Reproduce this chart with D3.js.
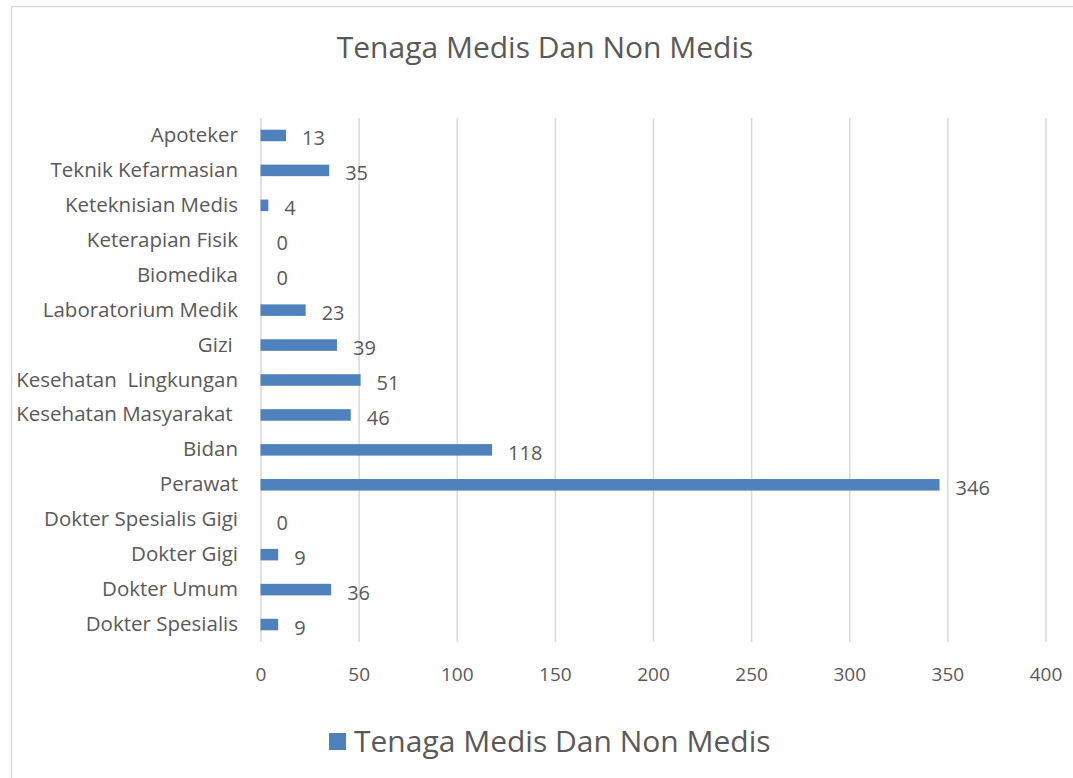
<!DOCTYPE html>
<meta charset="utf-8">
<style>
body { margin: 0; background: #fff; }
text { font-family: "Open Sans", sans-serif; fill: #595959; white-space: pre; }
.grid line { stroke: #d9d9d9; stroke-width: 1.5px; }
.grid path { display: none; }
.xaxis path, .xaxis line, .yaxis path, .yaxis line { display: none; }
</style>
<svg width="1073" height="778"></svg>
<script src="https://d3js.org/d3.v7.min.js"></script>
<script>

var categories = ["Apoteker", "Teknik Kefarmasian", "Keteknisian Medis", "Keterapian Fisik", "Biomedika",
  "Laboratorium Medik", "Gizi ", "Kesehatan  Lingkungan", "Kesehatan Masyarakat ", "Bidan", "Perawat",
  "Dokter Spesialis Gigi", "Dokter Gigi", "Dokter Umum", "Dokter Spesialis"];
var values = [13, 35, 4, 0, 0, 23, 39, 51, 46, 118, 346, 0, 9, 36, 9];
var xTicks = [0, 50, 100, 150, 200, 250, 300, 350, 400];
var seriesName = "Tenaga Medis Dan Non Medis";
var title = "Tenaga Medis Dan Non Medis";

var svg = d3.select("svg");

// chart border
svg.append("rect")
    .attr("x", 11.5).attr("y", 6.5)
    .attr("width", 1100).attr("height", 800)
    .attr("fill", "none")
    .attr("stroke", "#d9d9d9")
    .attr("stroke-width", 1.5);

var x = d3.scaleLinear().domain([0, 400]).range([260.5, 1045.5]);
var y = d3.scaleBand().domain(categories).range([118, 642]).paddingInner(0.67).paddingOuter(0.335);

svg.append("g")
    .attr("class", "grid")
    .attr("transform", "translate(0,118)")
  .call(d3.axisBottom(x).tickValues(xTicks).tickSize(524).tickFormat(""));

svg.append("g")
    .attr("class", "xaxis")
    .attr("transform", "translate(0,642)")
  .call(d3.axisBottom(x).tickValues(xTicks).tickSize(0).tickPadding(26))
  .selectAll("text")
    .style("font-size", "19px")
    .attr("fill", "#595959");

svg.append("g")
    .attr("class", "yaxis")
    .attr("transform", "translate(238,0)")
  .call(d3.axisLeft(y).tickSize(0).tickPadding(0))
  .selectAll("text")
    .style("font-size", "20.5px")
    .attr("fill", "#595959");

svg.selectAll(".bar")
    .data(values)
  .enter().append("rect")
    .attr("class", "bar")
    .attr("x", x(0))
    .attr("y", function(d, i) { return y(categories[i]); })
    .attr("width", function(d) { return x(d) - x(0); })
    .attr("height", y.bandwidth())
    .attr("fill", "#4f81bd");

svg.selectAll(".val")
    .data(values)
  .enter().append("text")
    .attr("class", "val")
    .attr("x", function(d) { return x(d) + 16; })
    .attr("y", function(d, i) { return y(categories[i]) + y.bandwidth() / 2 + 3; })
    .attr("dy", "0.35em")
    .style("font-size", "20px")
    .text(function(d) { return d; });

svg.append("text")
    .attr("x", 545)
    .attr("y", 47)
    .attr("dy", "0.35em")
    .attr("text-anchor", "middle")
    .style("font-size", "30px")
    .text(title);

// legend
svg.append("rect")
    .attr("x", 329).attr("y", 733)
    .attr("width", 17).attr("height", 17)
    .attr("fill", "#4f81bd");
svg.append("text")
    .attr("x", 354)
    .attr("y", 741)
    .attr("dy", "0.35em")
    .style("font-size", "30px")
    .text(seriesName);

</script>
